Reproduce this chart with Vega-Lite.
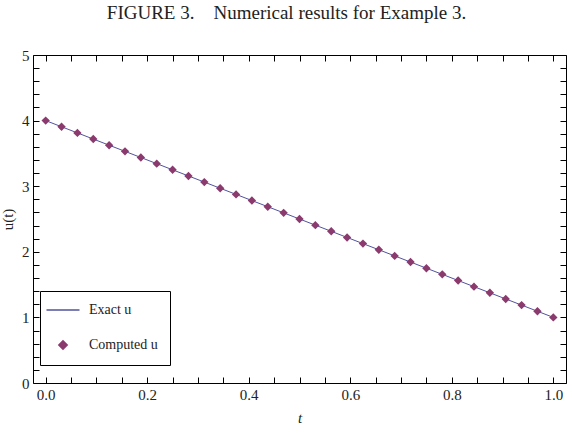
{
  "$schema": "https://vega.github.io/schema/vega-lite/v6.json",
  "autosize": "none",
  "width": 533,
  "height": 328,
  "padding": {"left": 33, "top": 55, "right": 6, "bottom": 53},
  "background": "white",
  "title": {
    "text": "FIGURE 3.\u00a0\u00a0\u00a0 Numerical results for Example 3.",
    "font": "Liberation Serif",
    "fontSize": 19,
    "fontWeight": "normal",
    "color": "#222",
    "anchor": "middle",
    "dx": -13,
    "offset": 25
  },
  "config": {
    "view": {"stroke": "#000", "strokeWidth": 1}
  },
  "datasets": {
    "exact": [
      {"t": 0, "u": 4},
      {"t": 1, "u": 1}
    ],
    "computed": [
      {"t": 0, "u": 4},
      {"t": 0.03125, "u": 3.90625},
      {"t": 0.0625, "u": 3.8125},
      {"t": 0.09375, "u": 3.71875},
      {"t": 0.125, "u": 3.625},
      {"t": 0.15625, "u": 3.53125},
      {"t": 0.1875, "u": 3.4375},
      {"t": 0.21875, "u": 3.34375},
      {"t": 0.25, "u": 3.25},
      {"t": 0.28125, "u": 3.15625},
      {"t": 0.3125, "u": 3.0625},
      {"t": 0.34375, "u": 2.96875},
      {"t": 0.375, "u": 2.875},
      {"t": 0.40625, "u": 2.78125},
      {"t": 0.4375, "u": 2.6875},
      {"t": 0.46875, "u": 2.59375},
      {"t": 0.5, "u": 2.5},
      {"t": 0.53125, "u": 2.40625},
      {"t": 0.5625, "u": 2.3125},
      {"t": 0.59375, "u": 2.21875},
      {"t": 0.625, "u": 2.125},
      {"t": 0.65625, "u": 2.03125},
      {"t": 0.6875, "u": 1.9375},
      {"t": 0.71875, "u": 1.84375},
      {"t": 0.75, "u": 1.75},
      {"t": 0.78125, "u": 1.65625},
      {"t": 0.8125, "u": 1.5625},
      {"t": 0.84375, "u": 1.46875},
      {"t": 0.875, "u": 1.375},
      {"t": 0.90625, "u": 1.28125},
      {"t": 0.9375, "u": 1.1875},
      {"t": 0.96875, "u": 1.09375},
      {"t": 1, "u": 1}
    ]
  },
  "layer": [
    {
      "data": {"name": "exact"},
      "mark": {"type": "line", "strokeWidth": 1},
      "encoding": {
        "x": {
          "field": "t", "type": "quantitative",
          "scale": {"domain": [-0.025, 1.025], "nice": false, "zero": false},
          "axis": {
            "orient": "bottom", "zindex": 1,
            "domain": false, "grid": false,
            "tickSize": 6, "offset": -6, "tickColor": "#000", "tickWidth": 1,
            "labelFont": "Liberation Serif", "labelFontSize": 15, "labelColor": "#222",
            "title": "t",
            "titleFont": "Liberation Serif", "titleFontSize": 15, "titleFontWeight": "normal", "titleColor": "#222",
            "titleFontStyle": "italic",
            "titlePadding": 8,
            "labelPadding": 4,
            "values": [0, 0.05, 0.1, 0.15, 0.2, 0.25, 0.3, 0.35, 0.4, 0.45, 0.5, 0.55, 0.6, 0.65, 0.7, 0.75, 0.8, 0.85, 0.9, 0.95, 1],
            "labelExpr": "abs(datum.value*5 - round(datum.value*5)) < 0.001 ? format(datum.value, '.1f') : ''"
          }
        },
        "y": {
          "field": "u", "type": "quantitative",
          "scale": {"domain": [0, 5], "nice": false, "zero": false},
          "axis": {
            "orient": "left", "zindex": 1,
            "domain": false, "grid": false,
            "tickSize": 6, "offset": -6, "tickColor": "#000", "tickWidth": 1,
            "labelFont": "Liberation Serif", "labelFontSize": 15, "labelColor": "#222",
            "title": "u(t)",
            "titleFont": "Liberation Serif", "titleFontSize": 15, "titleFontWeight": "normal", "titleColor": "#222",
            "titlePadding": 6,
            "labelPadding": 4,
            "values": [0, 0.2, 0.4, 0.6, 0.8, 1, 1.2, 1.4, 1.6, 1.8, 2, 2.2, 2.4, 2.6, 2.8, 3, 3.2, 3.4, 3.6, 3.8, 4, 4.2, 4.4, 4.6, 4.8, 5],
            "labelExpr": "abs(datum.value - round(datum.value)) < 0.001 ? format(datum.value, 'd') : ''"
          }
        },
        "color": {
          "datum": "Exact u",
          "type": "nominal",
          "scale": {"domain": ["Exact u", "Computed u"], "range": ["#52529c", "#8b3a6e"]},
          "legend": {
            "title": null,
            "orient": "none",
            "legendX": 7,
            "legendY": 236,
            "padding": 12,
            "strokeColor": "#000",
            "fillColor": "#fff",
            "labelFont": "Liberation Serif",
            "labelFontSize": 14,
            "labelColor": "#222",
            "labelOffset": 19,
            "rowPadding": 20,
            "symbolSize": 1089,
            "symbolOffset": 4,
            "symbolStrokeWidth": 1.5,
            "encode": {
              "symbols": {
                "update": {
                  "shape": {"signal": "datum.value === 'Exact u' ? 'stroke' : 'diamond'"},
                  "size": {"signal": "datum.value === 'Exact u' ? 1089 : 70"},
                  "stroke": {"signal": "datum.value === 'Exact u' ? '#8c88c8' : 'transparent'"},
                  "fill": {"signal": "datum.value === 'Exact u' ? 'transparent' : '#8b3a6e'"},
                  "strokeWidth": {"value": 1.5},
                  "opacity": {"value": 1}
                }
              }
            }
          }
        }
      }
    },
    {
      "data": {"name": "computed"},
      "mark": {"type": "point", "shape": "diamond", "filled": true, "size": 70, "opacity": 1},
      "encoding": {
        "x": {"field": "t", "type": "quantitative", "axis": null},
        "y": {"field": "u", "type": "quantitative", "axis": null},
        "color": {"datum": "Computed u", "type": "nominal"}
      }
    },
    {
      "data": {"name": "computed"},
      "mark": {"type": "point", "opacity": 0},
      "encoding": {
        "x": {
          "field": "t", "type": "quantitative",
          "axis": {
            "orient": "top", "zindex": 1,
            "domain": false, "grid": false,
            "tickSize": 6, "offset": -6, "tickColor": "#000", "tickWidth": 1,
            "title": null,
            "labels": false,
            "values": [0, 0.05, 0.1, 0.15, 0.2, 0.25, 0.3, 0.35, 0.4, 0.45, 0.5, 0.55, 0.6, 0.65, 0.7, 0.75, 0.8, 0.85, 0.9, 0.95, 1]
          }
        },
        "y": {
          "field": "u", "type": "quantitative",
          "axis": {
            "orient": "right", "zindex": 1,
            "domain": false, "grid": false,
            "tickSize": 6, "offset": -6, "tickColor": "#000", "tickWidth": 1,
            "title": null,
            "labels": false,
            "values": [0, 0.2, 0.4, 0.6, 0.8, 1, 1.2, 1.4, 1.6, 1.8, 2, 2.2, 2.4, 2.6, 2.8, 3, 3.2, 3.4, 3.6, 3.8, 4, 4.2, 4.4, 4.6, 4.8, 5]
          }
        }
      }
    }
  ],
  "resolve": {"axis": {"x": "independent", "y": "independent"}}
}
